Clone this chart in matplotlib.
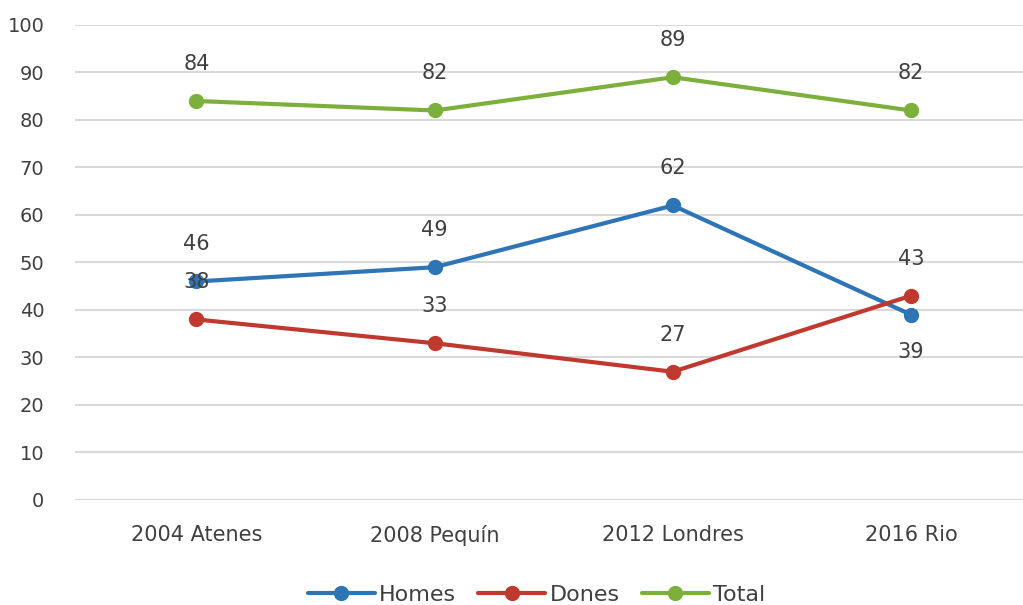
import matplotlib.pyplot as plt

categories = ['2004 Atenes', '2008 Pequín', '2012 Londres', '2016 Rio']
homes = [46, 49, 62, 39]
dones = [38, 33, 27, 43]
total = [84, 82, 89, 82]

series = [
    ('Homes', homes, '#2E75B6', [1, 1, 1, -1]),
    ('Dones', dones, '#C0392F', [1, 1, 1, 1]),
    ('Total', total, '#7DAF3C', [1, 1, 1, 1]),
]

fig = plt.figure(figsize=(10.23, 6.05), dpi=100)
ax = fig.add_axes([0.0733, 0.1736, 0.9267, 0.7851])

x = range(len(categories))
for name, vals, color, sides in series:
    ax.plot(x, vals, '-o', color=color, lw=3, markersize=10, label=name,
            solid_capstyle='round')
    for xi, v, s in zip(x, vals, sides):
        ax.annotate(str(v), (xi, v), xytext=(0, 37 * s), textcoords='offset pixels',
                    ha='center', va='center', fontsize=15, color='#404040')

ax.set_ylim(0, 100)
ax.set_yticks(range(0, 101, 10))
ax.set_xlim(-0.51, 3.47)
ax.set_xticks(list(x))
ax.set_xticklabels(categories, fontsize=15, color='#404040')
ax.tick_params(axis='y', labelsize=14, labelcolor='#404040', length=0, pad=22)
ax.tick_params(axis='x', length=0, pad=18)
ax.grid(axis='y', color='#D9D9D9', lw=1.5)
ax.set_axisbelow(True)
for sp in ax.spines.values():
    sp.set_visible(False)

leg = ax.legend(loc='center', bbox_to_anchor=(0.487, -0.2), ncol=3,
                frameon=False, fontsize=16, handlelength=3.0, columnspacing=1.0,
                handletextpad=0.2)
for t in leg.get_texts():
    t.set_color('#404040')

fig.savefig('out.png', dpi=100)
